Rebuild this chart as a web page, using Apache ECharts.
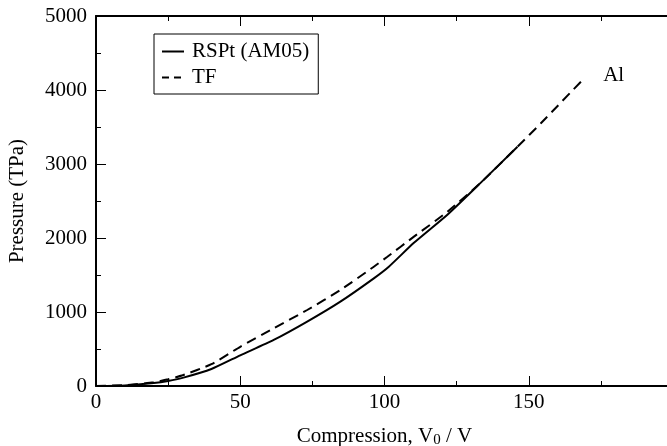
<!DOCTYPE html>
<html>
<head>
<meta charset="utf-8">
<script src="https://cdn.jsdelivr.net/npm/echarts@6/dist/echarts.min.js"></script>
<style>
  html, body { margin: 0; padding: 0; background: #fff; }
  #chart { width: 667px; height: 446px; }
</style>
</head>
<body>
<div id="chart"></div>
<script>
// compression V0/V, pressure in TPa
const rsptX = [0, 10, 20, 25, 30, 40, 50, 61.6, 73.2, 84.7, 96.3, 101.5, 110.2, 121.8, 133.3, 146.1];
const rsptP = [0, 8, 40, 68, 110, 230, 415, 622, 870, 1140, 1455, 1612, 1935, 2315, 2745, 3234];

const tfX = [0, 10, 20, 25, 30, 40, 50, 61.6, 73.2, 84.7, 96.3, 101, 110.2, 121.8, 133.3, 146.1, 154.2, 169.2];
const tfP = [0, 12, 50, 90, 145, 295, 530, 779, 1027, 1297, 1612, 1747, 2018, 2355, 2745, 3234, 3550, 4158];

const seriesNames = ['RSPt (AM05)', 'TF'];
const curveLabel = 'Al';

const font = 'Liberation Serif';
const ink = '#000';

function pairs(xs, ys) { return xs.map((x, i) => [x, ys[i]]); }

const chart = echarts.init(document.getElementById('chart'));

const axisCommon = {
  type: 'value',
  axisLine: { show: true, onZero: false, lineStyle: { color: ink, width: 2 } },
  axisTick: { show: true, inside: true, length: 10, lineStyle: { color: ink, width: 1 } },
  minorTick: { show: true, splitNumber: 2, length: 5, lineStyle: { color: ink, width: 1 } },
  splitLine: { show: false },
};

chart.setOption({
  animation: false,
  textStyle: { fontFamily: font, color: ink },
  grid: { left: 96, right: -6, top: 16, bottom: 60, outerBoundsMode: 'none', containLabel: false },
  legend: {
    data: [
      { name: seriesNames[0] },
      { name: seriesNames[1], lineStyle: { type: [7, 5] } },
    ],
    orient: 'vertical',
    left: 154, top: 34,
    padding: [7, 9, 6, 7],
    itemGap: 5,
    itemWidth: 22, itemHeight: 14,
    borderColor: ink, borderWidth: 1,
    itemStyle: { color: 'transparent', borderWidth: 0, opacity: 0 },
    textStyle: { fontFamily: font, fontSize: 21, color: ink, padding: [0, 0, 0, 3] },
  },
  xAxis: [
    Object.assign({}, axisCommon, {
      min: 0, max: 200, interval: 50,
      position: 'bottom',
      axisLabel: {
        color: ink, fontFamily: font, fontSize: 21, margin: 6,
        formatter: v => (v >= 200 ? '' : String(v)),
      },
      name: 'Compression, V{sub|0} / V',
      nameLocation: 'middle', nameGap: 39,
      nameTextStyle: {
        fontFamily: font, fontSize: 21, color: ink,
        rich: { sub: { fontFamily: font, fontSize: 15, color: ink, verticalAlign: 'bottom', padding: [8, 0, 0, 0] } },
      },
    }),
    Object.assign({}, axisCommon, {
      min: 0, max: 200, interval: 50,
      position: 'top',
      axisLabel: { show: false },
    }),
  ],
  yAxis: Object.assign({}, axisCommon, {
    min: 0, max: 5000, interval: 1000,
    axisLabel: { color: ink, fontFamily: font, fontSize: 21, margin: 9, formatter: v => String(v) },
    name: 'Pressure (TPa)',
    nameLocation: 'middle', nameGap: 68,
    nameTextStyle: { fontFamily: font, fontSize: 21, color: ink },
  }),
  series: [
    {
      name: seriesNames[0], type: 'line', xAxisIndex: 0,
      data: pairs(rsptX, rsptP),
      symbol: 'none', smooth: 0.2,
      lineStyle: { color: ink, width: 2, type: 'solid' },
      itemStyle: { color: ink },
    },
    {
      name: seriesNames[1], type: 'line', xAxisIndex: 0,
      data: pairs(tfX, tfP),
      symbol: 'none', smooth: 0.2,
      lineStyle: { color: ink, width: 2, type: [10, 6] },
      itemStyle: { color: ink },
      endLabel: {
        show: true, formatter: curveLabel, distance: 19, offset: [0, -3],
        fontFamily: font, fontSize: 21, color: ink,
      },
    },
  ],
});
</script>
</body>
</html>
